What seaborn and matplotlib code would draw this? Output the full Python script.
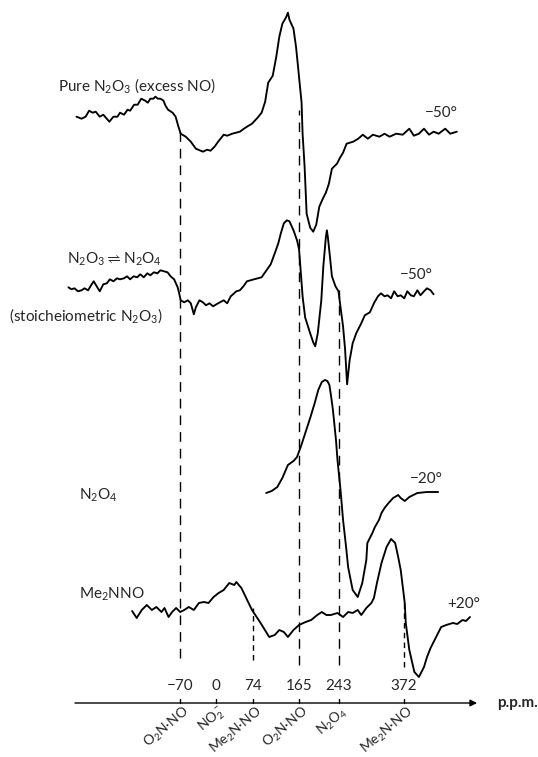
import numpy as np
import matplotlib
matplotlib.use("Agg")
import matplotlib.pyplot as plt
import seaborn as sns

# ---------------- data ----------------
ppm_ticks = [-70, 0, 74, 165, 243, 372]
tick_labels = ["\u221270", "0", "74", "165", "243", "372"]
assign_labels = [r"O$_2$N·NO", r"NO$_2^-$", r"Me$_2$N·NO",
                 r"O$_2$N·NO", r"N$_2$O$_4$", r"Me$_2$N·NO"]
guide_ppm = [-70, 74, 165, 243, 372]

trace_names = [r"Pure N$_2$O$_3$ (excess NO)",
               r"N$_2$O$_3\rightleftharpoons$N$_2$O$_4$",
               r"N$_2$O$_4$",
               r"Me$_2$NNO"]
sub_note = r"(stoicheiometric N$_2$O$_3$)"
temps = ["\u221250°", "\u221250°", "\u221220°", "+20°"]

# trace 1: pure N2O3 (excess NO), -50 deg
t1_ppm = [-275, -265, -257, -250, -243, -237, -229, -222, -210, -202, -194, -189, -181, -174,
          -169, -161, -154, -147, -139, -134, -129, -123, -119, -114, -109, -103, -99, -94,
          -85, -79, -74, -69, -59, -49, -39, -25, -17, -10, -2, 5, 16, 23, 33, 48, 56, 62,
          72, 83, 91, 98, 104, 113, 120, 126, 132, 139, 143, 146, 154, 159, 163, 170, 172,
          176, 180, 187, 193, 199, 205, 212, 218, 224, 230, 240, 246, 252, 259, 272, 282,
          291, 301, 311, 324, 334, 344, 357, 370, 383, 392, 402, 412, 422, 431, 441, 454,
          464, 477]
t1_int = [15, 13, 15, 21, 19, 20, 15, 17, 10, 15, 15, 19, 17, 22,
          21, 27, 27, 33, 31, 29, 33, 33, 35, 33, 33, 31, 26, 22,
          19, 15, 6, -2, -5, -10, -17, -20, -18, -19, -15, -10, -3, -4, -2, 0, 3, 5,
          8, 14, 19, 30, 49, 56, 75, 95, 108, 114, 119, 112, 103, 85, 65, 29, -2,
          -35, -82, -96, -100, -93, -75, -67, -61, -52, -37, -32, -26, -21, -12, -10, -7,
          -3, -7, -3, -5, -2, -5, -2, -3, 3, -4, -2, 3, -3, 0, -2, 3,
          -2, 0]

# trace 2: N2O3 <=> N2O4 (stoicheiometric N2O3), -50 deg
t2_ppm = [-291, -285, -279, -272, -265, -259, -252, -245, -241, -235, -229, -222, -215, -209,
          -202, -195, -189, -181, -175, -169, -162, -155, -149, -142, -135, -129, -122, -115,
          -109, -102, -95, -89, -82, -75, -72, -69, -62, -55, -49, -43, -39, -32, -25, -19,
          -12, -5, 5, 16, 23, 30, 41, 48, 55, 62, 76, 91, 102, 109, 117, 124, 129, 135,
          141, 146, 154, 161, 165, 168, 172, 177, 187, 193, 197, 202, 209, 213, 218, 220,
          222, 226, 230, 237, 243, 247, 252, 256, 260, 265, 271, 278, 288, 295, 305, 314,
          321, 327, 334, 340, 347, 353, 360, 366, 373, 379, 386, 392, 399, 405, 412, 418,
          425, 431]
t2_int = [6, 4, 5, 2, 3, 5, 3, 9, 12, 7, 2, 9, 10, 14,
          12, 15, 14, 15, 17, 14, 17, 16, 19, 16, 20, 18, 21, 20,
          23, 22, 21, 17, 14, 6, 0, -7, -9, -7, -10, -21, -14, -7, -9, -12,
          -10, -13, -10, -7, -10, -3, 2, 3, 7, 12, 14, 16, 24, 29, 40, 50, 60, 70,
          73, 72, 63, 53, 44, 24, -3, -24, -40, -49, -53, -40, -7, 27, 56, 63,
          56, 37, 17, 7, 2, -14, -33, -56, -91, -67, -50, -40, -30, -22, -19, -9,
          -3, 0, -3, -2, -5, 2, -3, -2, -5, 2, -2, -3, 3, -2, 2, 5,
          3, -1]

# trace 3: N2O4, -20 deg
t3_ppm = [100, 111, 122, 132, 143, 154, 161, 169, 178, 187, 196, 203, 210, 216, 221,
          225, 228, 232, 238, 241, 243, 247, 252, 258, 262, 271, 281, 290, 298, 300,
          310, 315, 323, 328, 334, 342, 351, 361, 366, 374, 383, 399, 418, 429, 440]
t3_int = [0, 2, 6, 15, 28, 32, 36, 47, 61, 75, 90, 103, 111, 113, 112,
          108, 98, 83, 53, 33, 23, 3, -27, -54, -74, -97, -104, -90, -67, -50,
          -40, -34, -27, -20, -15, -10, -5, -2, -5, -8, -4, 0, 1, 1, 1]

# trace 4: Me2NNO, +20 deg
t4_ppm = [-165, -156, -146, -136, -126, -117, -107, -101, -93, -86, -78, -70, -62, -53, -43,
          -33, -23, -14, -4, 6, 16, 27, 37, 41, 51, 72, 89, 106, 117, 126,
          135, 143, 154, 165, 178, 189, 201, 210, 219, 228, 241, 252, 262, 271, 281,
          288, 298, 308, 313, 319, 328, 338, 347, 355, 361, 366, 374, 376, 383, 393,
          402, 412, 418, 425, 433, 440, 446, 456, 469, 478, 488, 495, 503]
t4_int = [2, -5, 3, 8, 3, 6, 1, 5, -4, 1, 5, 1, 3, 6, 3,
          10, 11, 10, 16, 20, 23, 30, 28, 31, 25, 3, -10, -24, -22, -17,
          -19, -24, -17, -12, -9, -7, -2, 1, -2, -2, 0, -4, 1, 0, 3,
          -2, 5, 10, 15, 30, 50, 66, 74, 70, 56, 43, 10, -10, -37, -59,
          -64, -54, -44, -35, -27, -20, -14, -12, -10, -11, -7, -8, -4]

# ---------------- layout / style ----------------
W, H = 538, 757
XLIM = (-426.2, 637.4)
offsets = [625.3, 463.7, 264.0, 144.0]          # vertical stacking of the spectra
guide_spans = {-70: (99, 630), 74: (97, 149), 165: (92, 647), 243: (92, 467), 372: (90, 157)}
axis_y = 54
axis_range = (-278, 517)

sns.set_style("white")
plt.rcParams["font.family"] = ["Lato", "DejaVu Sans"]
plt.rcParams["mathtext.fontset"] = "custom"
plt.rcParams["mathtext.rm"] = "Lato"
plt.rcParams["mathtext.it"] = "Lato:italic"
plt.rcParams["mathtext.bf"] = "Lato:bold"
plt.rcParams["mathtext.default"] = "rm"
plt.rcParams["mathtext.fallback"] = "stixsans"

fig = plt.figure(figsize=(W / 100, H / 100), dpi=100)
ax = fig.add_axes([0, 0, 1, 1])
ax.set_xlim(*XLIM)
ax.set_ylim(0, H)
ax.axis("off")

FS = 11

# spectra
for xs, ys, off in [(t1_ppm, t1_int, offsets[0]), (t2_ppm, t2_int, offsets[1]),
                    (t3_ppm, t3_int, offsets[2]), (t4_ppm, t4_int, offsets[3])]:
    sns.lineplot(x=np.array(xs), y=off + np.array(ys), ax=ax, sort=False,
                 estimator=None, color="black", linewidth=1.35)

# dashed guide lines
for p in guide_ppm:
    lo, hi = guide_spans[p]
    dash = (7, 5) if p in (-70, 165, 243) else (4, 3)
    ax.plot([p, p], [lo, hi], color="black", lw=1.0, dashes=dash)

# chemical-shift axis with arrow
ax.annotate("", xy=(axis_range[1], axis_y), xytext=(axis_range[0], axis_y),
            arrowprops=dict(arrowstyle="-|>", lw=1.0, color="black",
                            mutation_scale=10, shrinkA=0, shrinkB=0))
for p, lab, name in zip(ppm_ticks, tick_labels, assign_labels):
    ax.plot([p, p], [axis_y, axis_y + 4.5], color="black", lw=1.0)
    ax.text(p, axis_y + 17, lab, ha="center", va="center", fontsize=FS)
    ax.text(p + 5, axis_y - 0.5, name, ha="right", va="top", rotation=40,
            rotation_mode="anchor", fontsize=10)


def ftext(x, y, s, **kw):
    fig.text(x / W, 1 - y / H, s, fontsize=FS, **kw)


ftext(497, 703, "p.p.m.", ha="left", va="center", fontweight="bold")

# trace labels
ftext(58, 86, trace_names[0], ha="left", va="center")
ftext(67, 259, trace_names[1], ha="left", va="center")
ftext(9, 316, sub_note, ha="left", va="center")
ftext(79, 495, trace_names[2], ha="left", va="center")
ftext(79, 594, trace_names[3], ha="left", va="center")

# temperatures
ftext(425, 113, temps[0], ha="left", va="center")
ftext(400, 275, temps[1], ha="left", va="center")
ftext(410, 479, temps[2], ha="left", va="center")
ftext(447, 604, temps[3], ha="left", va="center")

fig.savefig("out.png", dpi=100, facecolor="white")
